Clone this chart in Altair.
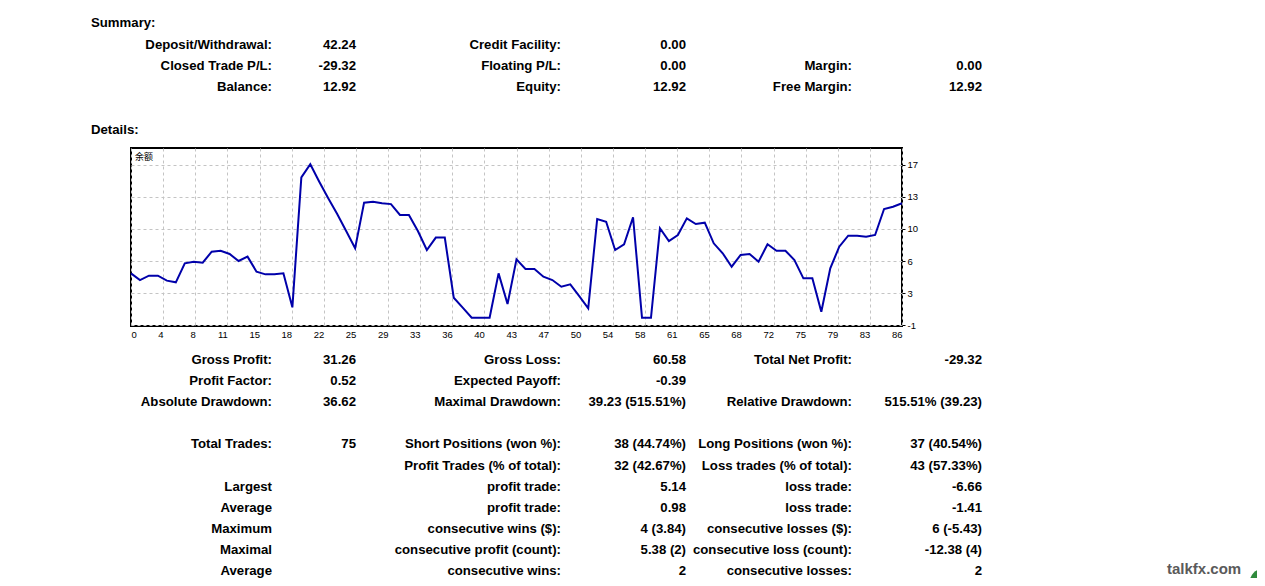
import altair as alt
import pandas as pd

# ---------------- data ----------------
balance = [4.81, 4.06, 4.55, 4.55, 3.99, 3.80, 5.94, 6.12, 6.01, 7.25,
           7.36, 6.99, 6.20, 6.69, 5.00, 4.70, 4.70, 4.81, 0.99, 15.61,
           17.08, 15.12, 13.25, 11.49, 9.57, 7.63, 12.76, 12.87, 12.69, 12.60,
           11.38, 11.38, 9.58, 7.44, 8.83, 8.83, 2.07, 0.95, -0.18, -0.18,
           -0.18, 4.81, 1.36, 6.39, 5.30, 5.30, 4.44, 4.06, 3.31, 3.58,
           2.26, 0.88, 10.93, 10.62, 7.44, 8.08, 11.12, -0.18, -0.18, 9.88,
           8.45, 9.13, 11.00, 10.36, 10.51, 8.19, 7.07, 5.56, 6.88, 6.99,
           6.12, 8.08, 7.36, 7.36, 6.31, 4.25, 4.25, 0.50, 5.38, 7.81,
           9.05, 9.05, 8.94, 9.13, 12.05, 12.31, 12.69]
trades = list(range(len(balance)))

x_tick_labels = ["0", "4", "8", "11", "15", "18", "22", "25", "29", "33", "36", "40",
                 "43", "47", "50", "54", "58", "61", "65", "68", "72", "75", "79", "83", "86"]
y_tick_values = [-1, 2.6, 6.2, 9.8, 13.4, 17]
y_tick_labels = ["-1", "3", "6", "10", "13", "17"]

section_titles = ["Summary:", "Details:"]
chart_title = "余额"

summary_labels_1 = ["Deposit/Withdrawal:", "Closed Trade P/L:", "Balance:"]
summary_values_1 = ["42.24", "-29.32", "12.92"]
summary_labels_2 = ["Credit Facility:", "Floating P/L:", "Equity:"]
summary_values_2 = ["0.00", "0.00", "12.92"]
summary_labels_3 = ["", "Margin:", "Free Margin:"]
summary_values_3 = ["", "0.00", "12.92"]

details_labels_1 = ["Gross Profit:", "Profit Factor:", "Absolute Drawdown:", "",
                    "Total Trades:", "", "Largest", "Average", "Maximum", "Maximal", "Average"]
details_values_1 = ["31.26", "0.52", "36.62", "", "75", "", "", "", "", "", ""]
details_labels_2 = ["Gross Loss:", "Expected Payoff:", "Maximal Drawdown:", "",
                    "Short Positions (won %):", "Profit Trades (% of total):", "profit trade:",
                    "profit trade:", "consecutive wins ($):", "consecutive profit (count):",
                    "consecutive wins:"]
details_values_2 = ["60.58", "-0.39", "39.23 (515.51%)", "", "38 (44.74%)", "32 (42.67%)",
                    "5.14", "0.98", "4 (3.84)", "5.38 (2)", "2"]
details_labels_3 = ["Total Net Profit:", "", "Relative Drawdown:", "",
                    "Long Positions (won %):", "Loss trades (% of total):", "loss trade:",
                    "loss trade:", "consecutive losses ($):", "consecutive loss (count):",
                    "consecutive losses:"]
details_values_3 = ["-29.32", "", "515.51% (39.23)", "", "37 (40.54%)", "43 (57.33%)",
                    "-6.66", "-1.41", "6 (-5.43)", "-12.38 (4)", "2"]

watermark = "talkfx.com"

# ---------------- tables ----------------
df = pd.DataFrame({"trade": trades, "balance": balance})

rows = []
for section, cols in enumerate([
    [summary_labels_1, summary_values_1, summary_labels_2, summary_values_2,
     summary_labels_3, summary_values_3],
    [details_labels_1, details_values_1, details_labels_2, details_values_2,
     details_labels_3, details_values_3],
]):
    for c, col in enumerate(cols):
        for r, t in enumerate(col):
            if t:
                rows.append({"text": t, "col": c, "row": r, "section": section})
text_df = pd.DataFrame(rows)
title_df = pd.DataFrame({"text": section_titles, "k": [0, 1]})

# ---------------- layout ----------------
W, H = 771, 178
FONT = "Liberation Sans"

n = len(x_tick_labels) - 1
x_max = trades[-1]
x_tick_pos = [k * x_max / n for k in range(n + 1)]
x_label_expr = "[" + ",".join("'%s'" % s for s in x_tick_labels) + "][round(datum.value*%d/%d)]" % (n, x_max)
y_label_expr = "[" + ",".join("'%s'" % s for s in y_tick_labels) + "][indexof(%s, datum.value)]" % (
    "[" + ",".join(str(v) for v in y_tick_values) + "]")

line = alt.Chart(df).mark_line(color="#0000AA", strokeWidth=2).encode(
    x=alt.X("trade:Q",
            scale=alt.Scale(domain=[0, x_max], nice=False, zero=False),
            axis=alt.Axis(title=None, values=x_tick_pos, labelExpr=x_label_expr,
                          ticks=False, labelPadding=3, grid=True,
                          labelAlign={"expr": "datum.value == 0 ? 'left' : 'right'"},
                          labelFlush=False, labelOverlap=False, domain=False)),
    y=alt.Y("balance:Q",
            scale=alt.Scale(domain=[-1.11, 18.91], nice=False, zero=False),
            axis=alt.Axis(title=None, orient="right", values=y_tick_values,
                          labelExpr=y_label_expr, ticks=True, tickSize=3,
                          tickColor="black", labelPadding=2, grid=True,
                          labelOverlap=False, domain=False)),
)

col_x = "[141, 225, 430, 555, 721, 851][datum.col]"
row_y = "datum.section == 0 ? -103 + datum.row * 21 : 212 + datum.row * 21.1"

texts = alt.Chart(text_df).transform_calculate(
    px=col_x, py=row_y
).mark_text(align="right", baseline="middle", font=FONT, fontSize=13.2,
            fontWeight="bold", color="black").encode(
    x=alt.X("px:Q", scale=None, axis=None),
    y=alt.Y("py:Q", scale=None, axis=None),
    text="text:N",
)

titles = alt.Chart(title_df).transform_calculate(
    px="-40", py="[-125, -18][datum.k]"
).mark_text(align="left", baseline="middle", font=FONT, fontSize=13.2,
            fontWeight="bold", color="black").encode(
    x=alt.X("px:Q", scale=None, axis=None),
    y=alt.Y("py:Q", scale=None, axis=None),
    text="text:N",
)

cn = alt.Chart(pd.DataFrame({"text": [chart_title]})).mark_text(
    align="left", baseline="middle", font="Noto Sans CJK SC", fontSize=9, color="black"
).encode(x=alt.value(4), y=alt.value(9), text="text:N")

logo = alt.Chart(pd.DataFrame({"text": [watermark]})).mark_circle(
    color="#2f8a3c", opacity=1, size=700
).encode(x=alt.value(1132), y=alt.value(434))

wm = alt.Chart(pd.DataFrame({"text": [watermark]})).mark_text(
    align="left", baseline="middle", font=FONT, fontSize=15, fontWeight="bold",
    color="#5a5a5a"
).encode(x=alt.value(1036), y=alt.value(421), text="text:N")

chart = alt.layer(line, texts, titles, cn, logo, wm).properties(
    width=W, height=H,
    padding={"left": 123, "top": 140, "right": 355, "bottom": 252},
    autosize=alt.AutoSizeParams(type="none"),
    background="white",
).configure_view(
    stroke="black", strokeWidth=2
).configure_axis(
    gridColor="#c4c4c4", gridDash=[3, 3], gridWidth=1,
    labelFont=FONT, labelFontSize=9.5, labelColor="black",
)

chart.save("out.html", embed_options={"renderer": "svg", "actions": False})
